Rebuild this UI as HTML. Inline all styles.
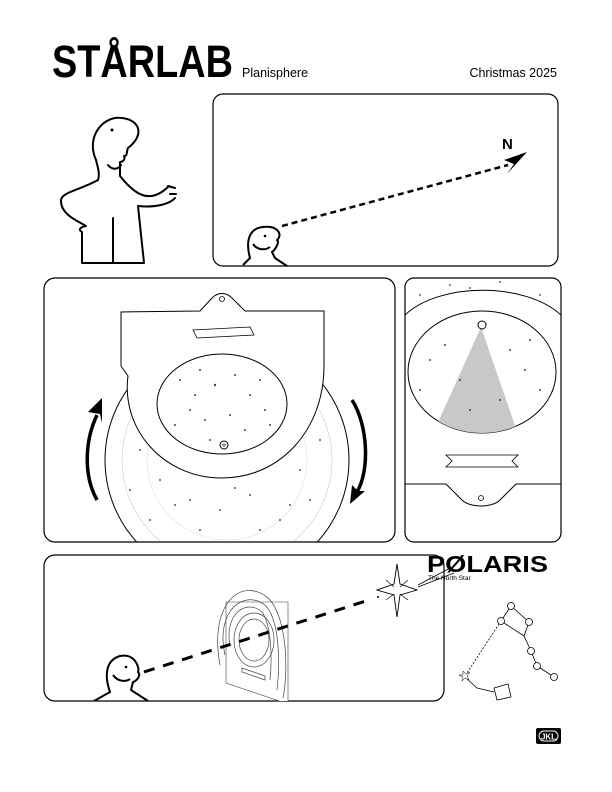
<!DOCTYPE html>
<html><head><meta charset="utf-8"><style>
html,body{margin:0;padding:0;background:#fff;}
svg{display:block;}
text{font-family:"Liberation Sans",Arial,sans-serif;}
</style></head><body>
<svg width="612" height="792" viewBox="0 0 612 792" xmlns="http://www.w3.org/2000/svg">
<defs>
<clipPath id="p2"><rect x="44" y="278" width="351" height="264" rx="11"/></clipPath>
<clipPath id="p3"><rect x="405" y="278" width="156" height="264" rx="9"/></clipPath>
<clipPath id="el3"><ellipse cx="482" cy="372" rx="74" ry="61"/></clipPath>
<clipPath id="p4"><rect x="44" y="555" width="400" height="146" rx="11"/></clipPath>
</defs>
<text x="52" y="77" font-size="45" font-weight="bold" textLength="181" lengthAdjust="spacingAndGlyphs">STÅRLAB</text>
<text x="242" y="77" font-size="12.5">Planisphere</text>
<text x="557" y="77" font-size="12.5" text-anchor="end">Christmas 2025</text>

<!-- big person -->
<g fill="none" stroke="#000" stroke-width="2" stroke-linejoin="round" stroke-linecap="round">
<path d="M96 160 C85 135 105 115 122 118 C140 120 145 135 128 148 C126 152 128 156 124 156 C126 160 122 162 120 162 L120 176 C135 195 150 205 169 186"/>
<path d="M96 160 C98 168 100 174 98 180 C80 190 62 192 61 200 C60 215 80 222 86 226 C80 227 78 230 82 232 L82 263 L113 263 M113 263 L113 218 M113 263 L144 263 L138 206 C155 208 170 204 175 198"/>
<path d="M168 186 L175 188 M170 194 L176 194"/>
<path d="M108 165 C112 170 118 170 121 165"/>
</g>
<circle cx="112" cy="130" r="1.5" fill="#000"/>

<!-- panel 1 -->
<rect x="213" y="94" width="345" height="172" rx="10" fill="none" stroke="#000" stroke-width="1.2"/>
<g fill="none" stroke="#000" stroke-width="2" stroke-linejoin="round">
<path d="M243 265 L250 258 C245 240 250 228 263 227 C278 225 283 235 277 240 C280 242 275 250 272 252 L275 258 L287 266"/>
<path d="M253 244 C258 251 266 250 270 247"/>
</g>
<circle cx="265" cy="236" r="1.3" fill="#000"/>
<line x1="282" y1="226" x2="508" y2="165" stroke="#000" stroke-width="2.5" stroke-dasharray="6,4"/>
<path d="M527 152 L504 160 L514 164 L507 174 Z" fill="#000"/>
<text x="502" y="149" font-size="15" font-weight="bold">N</text>

<!-- panel 2 -->
<g clip-path="url(#p2)">
<circle cx="227" cy="460" r="122" fill="#fff" stroke="#000" stroke-width="1"/>
<circle cx="227" cy="460" r="105" fill="none" stroke="#ccc" stroke-width="0.6"/>
<circle cx="227" cy="460" r="80" fill="none" stroke="#ddd" stroke-width="0.6"/>
<g fill="#555">
<circle cx="140" cy="450" r="1"/><circle cx="160" cy="480" r="1"/><circle cx="190" cy="500" r="1"/><circle cx="220" cy="510" r="1"/><circle cx="250" cy="495" r="1"/><circle cx="280" cy="520" r="1"/><circle cx="300" cy="470" r="1"/><circle cx="320" cy="440" r="1"/><circle cx="150" cy="520" r="1"/><circle cx="200" cy="530" r="1"/><circle cx="260" cy="530" r="1"/><circle cx="310" cy="500" r="1"/><circle cx="130" cy="490" r="1"/><circle cx="175" cy="505" r="1"/><circle cx="235" cy="488" r="1"/><circle cx="290" cy="505" r="1"/>
</g>
</g>
<path d="M121 312 L200 311 L212 298 C218 292 226 292 232 298 L245 311 L324 311 L324 366 C324 430 280 478 222 478 C164 478 121 430 128 376 L121 366 Z" fill="#fff" stroke="#000" stroke-width="1"/>
<circle cx="222" cy="299" r="2.5" fill="none" stroke="#000" stroke-width="0.8"/>
<path d="M193 330 L250 327 L254 335 L197 338 Z" fill="#fff" stroke="#000" stroke-width="0.8"/>
<ellipse cx="222" cy="404" rx="65" ry="50" fill="#fff" stroke="#000" stroke-width="1"/>
<g fill="#444">
<circle cx="180" cy="380" r="1"/><circle cx="200" cy="370" r="1"/><circle cx="215" cy="385" r="1.2"/><circle cx="235" cy="375" r="1"/><circle cx="250" cy="395" r="1"/><circle cx="265" cy="410" r="1"/><circle cx="190" cy="410" r="1"/><circle cx="205" cy="420" r="1"/><circle cx="230" cy="415" r="1"/><circle cx="245" cy="430" r="1"/><circle cx="175" cy="425" r="1"/><circle cx="260" cy="380" r="1"/><circle cx="195" cy="395" r="1"/><circle cx="270" cy="425" r="1"/><circle cx="210" cy="440" r="1"/>
</g>
<circle cx="224" cy="445" r="4" fill="none" stroke="#000" stroke-width="1"/>
<circle cx="224" cy="445" r="1.8" fill="#888"/>
<rect x="44" y="278" width="351" height="264" rx="11" fill="none" stroke="#000" stroke-width="1.2"/>
<path d="M97 500 C83 475 85 440 97 415" fill="none" stroke="#000" stroke-width="3.5"/>
<path d="M102 398 L88 412 L100 414 L102 423 Z" fill="#000"/>
<path d="M352 400 C368 425 370 470 357 492" fill="none" stroke="#000" stroke-width="3.5"/>
<path d="M350 504 L352 485 L358 491 L365 491 Z" fill="#000"/>

<!-- panel 3 -->
<g clip-path="url(#p3)">
<path d="M405 315 C440 282 525 282 561 315" fill="none" stroke="#000" stroke-width="1"/>
<g fill="#666"><circle cx="420" cy="295" r="1"/><circle cx="450" cy="285" r="1"/><circle cx="500" cy="282" r="1"/><circle cx="540" cy="295" r="1"/><circle cx="470" cy="288" r="1"/></g>
<ellipse cx="482" cy="372" rx="74" ry="61" fill="#fff" stroke="#000" stroke-width="1"/>
<polygon points="481,327 430,440 520,440" fill="#c8c8c8" clip-path="url(#el3)"/>
<g fill="#444"><circle cx="430" cy="360" r="1"/><circle cx="445" cy="345" r="1"/><circle cx="460" cy="380" r="1"/><circle cx="510" cy="350" r="1"/><circle cx="525" cy="370" r="1"/><circle cx="540" cy="390" r="1"/><circle cx="500" cy="400" r="1"/><circle cx="470" cy="410" r="1"/><circle cx="420" cy="390" r="1"/><circle cx="530" cy="340" r="1"/></g>
<circle cx="482" cy="325" r="4" fill="none" stroke="#000" stroke-width="1"/>
<path d="M446 455 L518 455 L512 461 L518 467 L446 467 L452 461 Z" fill="#fff" stroke="#000" stroke-width="0.8"/>
<path d="M405 484 L446 484 L462 500 C470 508 492 508 500 500 L516 484 L561 484" fill="none" stroke="#000" stroke-width="1"/>
<circle cx="481" cy="498" r="2.5" fill="none" stroke="#000" stroke-width="0.8"/>
</g>
<rect x="405" y="278" width="156" height="264" rx="9" fill="none" stroke="#000" stroke-width="1.2"/>

<!-- panel 4 -->
<rect x="44" y="555" width="400" height="146" rx="11" fill="none" stroke="#000" stroke-width="1.2"/>
<g clip-path="url(#p4)">
<g fill="none" stroke="#000" stroke-width="2" stroke-linejoin="round">
<path d="M94 701 L110 692 C104 675 106 660 120 656 C135 653 140 668 138 672 C142 676 135 682 133 682 L131 690 L148 701"/>
<path d="M113 675 C118 682 126 682 130 679"/>
</g>
<circle cx="126" cy="667" r="1.3" fill="#000"/>
<path d="M226 602 L288 602 L288 704 L226 683 Z" fill="#fff" stroke="#444" stroke-width="0.6"/>
<g fill="none" stroke="#444" stroke-width="0.7">
<path d="M220 665 C208 600 245 575 270 600 C288 622 288 675 283 698"/>
<path d="M225 655 C215 610 245 588 266 606 C280 622 280 665 277 690"/>
<path d="M230 645 C224 615 246 598 262 612 C272 626 272 660 270 680"/>
<ellipse cx="254" cy="640" rx="20" ry="27"/>
<ellipse cx="254" cy="640" rx="15" ry="21"/>
<path d="M242 668 L265 676 L265 680 L242 672 Z"/>
</g>
<line x1="144" y1="672" x2="369" y2="600" stroke="#000" stroke-width="3" stroke-dasharray="11,9"/>
</g>
<path d="M397 564 L400 584 L417 590 L400 595 L397 617 L394 595 L377 590 L394 584 Z" fill="#fff" stroke="#000" stroke-width="0.9"/>
<path d="M386 580 L394 587 M408 580 L400 587 M386 600 L394 594 M408 600 L400 594" stroke="#000" stroke-width="0.6"/>
<circle cx="378" cy="597" r="1" fill="#000"/>
<path d="M418 585 L454 566 M418 587 L454 573" stroke="#000" stroke-width="0.8" fill="none"/>
<text x="427" y="572" font-size="23" font-weight="bold" textLength="121" lengthAdjust="spacingAndGlyphs">PØLARIS</text>
<text x="428" y="580" font-size="6.5">The North Star</text>
<g fill="none" stroke="#000" stroke-width="0.8">
<path d="M511 606 L529 622 L524 636 L501 621 Z"/>
<path d="M524 636 L531 651 L537 666 L554 677"/>
<path d="M501 621 L465 676" stroke-dasharray="2,1.5"/>
<path d="M466 678 L477 688 L494 692"/>
<path d="M494 688 L508 684 L511 697 L497 700 Z" fill="#fff"/>
</g>
<g fill="#fff" stroke="#000" stroke-width="0.8">
<circle cx="511" cy="606" r="3.5"/><circle cx="501" cy="621" r="3.5"/><circle cx="529" cy="622" r="3.5"/>
<circle cx="531" cy="651" r="3.5"/><circle cx="537" cy="666" r="3.5"/><circle cx="554" cy="677" r="3.5"/>
</g>
<path d="M463 671 L466 674 L470 672 L467 676 L469 680 L465 678 L462 681 L463 677 L459 675 L463 675 Z" fill="#fff" stroke="#000" stroke-width="0.5"/>

<!-- JKL -->
<rect x="536" y="728" width="25" height="16" rx="2" fill="#000"/>
<rect x="539" y="731" width="19" height="10" rx="5" fill="none" stroke="#fff" stroke-width="1"/>
<text x="548.5" y="739.5" font-size="8" font-weight="bold" fill="#fff" text-anchor="middle">JKL</text>
</svg>
</body></html>
